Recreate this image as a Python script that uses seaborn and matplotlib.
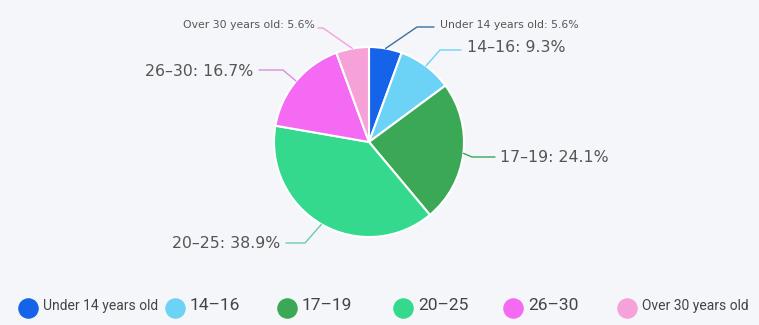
import matplotlib
matplotlib.use("Agg")
import matplotlib.pyplot as plt
import seaborn as sns
import numpy as np

# Age distribution of respondents
categories = ["Under 14 years old", "14\u201316", "17\u201319", "20\u201325", "26\u201330", "Over 30 years old"]
percentages = [5.6, 9.3, 24.1, 38.9, 16.7, 5.6]
colors = ["#1463e8", "#6dd3f6", "#3aa854", "#34d98d", "#f46af2", "#f6a2d8"]
line_colors = ["#3d6f9e", "#6dd3f6", "#3aa854", "#6fc8b0", "#d98fd6", "#f6a2d8"]

# Layout (pixel coords, y measured from top of the image)
W, H = 759, 325
center_px = (369, 142)
radius_px = 95
# label text anchor, elbow of leader line, end of leader line, alignment, fontsize
label_text = [(440, 25), (467, 47), (500, 157), (280, 243), (253, 71), (315, 25)]
label_elbow = [(417, 27), (440, 50), (472, 157), (305, 243), (283, 70), (323, 28)]
label_end = [(434, 27), (461, 50), (495, 157), (286, 243), (259, 70), (318, 28)]
label_ha = ["left", "left", "left", "right", "right", "right"]
label_size = [7.8, 11.3, 11.3, 11.3, 11.3, 7.8]
legend_x = [28, 175, 287, 403, 513, 627]
legend_size = [10, 12.5, 12.5, 12.5, 12.5, 10]
legend_y = 308

sns.set_theme(style="white")
plt.rcParams["font.family"] = ["DejaVu Sans"]

bg = "#f4f6f9"
fig = plt.figure(figsize=(W / 100, H / 100), dpi=100, facecolor=bg)
ax = fig.add_axes([0, 0, 1, 1])
ax.set_facecolor(bg)
ax.set_xlim(0, W)
ax.set_ylim(0, H)
ax.set_aspect("equal")
ax.axis("off")


def fy(y):
    return H - y


cx, cy = center_px[0], fy(center_px[1])
wedges, _ = ax.pie(percentages, colors=colors, startangle=90, counterclock=False,
                   center=(cx, cy), radius=radius_px,
                   wedgeprops=dict(edgecolor="white", linewidth=1.5))
ax.set_xlim(0, W)
ax.set_ylim(0, H)

for i, w in enumerate(wedges):
    mid = np.deg2rad((w.theta1 + w.theta2) / 2)
    ex = cx + radius_px * np.cos(mid)
    ey = cy + radius_px * np.sin(mid)
    elx, ely = label_elbow[i]
    enx, eny = label_end[i]
    ax.plot([ex, elx, enx], [ey, fy(ely), fy(eny)], color=line_colors[i], lw=1.0)
    tx, ty = label_text[i]
    ax.text(tx, fy(ty), f"{categories[i]}: {percentages[i]}%", ha=label_ha[i], va="center",
            fontsize=label_size[i], color="#555555")

# legend row
for i, cat in enumerate(categories):
    ax.scatter([legend_x[i]], [fy(legend_y)], s=190, color=colors[i], clip_on=False, zorder=3)
    ax.text(legend_x[i] + 15, fy(legend_y) + 2, cat, ha="left", va="center",
            fontsize=legend_size[i], color="#444444", family="Roboto")

fig.savefig("out.png", dpi=100, facecolor=bg)
